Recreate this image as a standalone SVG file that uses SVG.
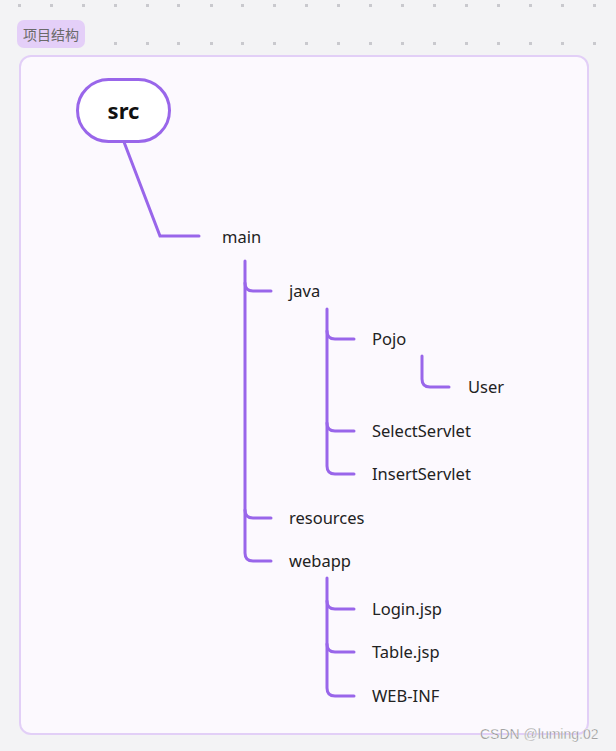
<svg xmlns="http://www.w3.org/2000/svg" width="616" height="751" viewBox="0 0 616 751">
<style>
.dot{fill:#c9c9ce}
.c{fill:none;stroke:#9966ea;stroke-width:3;stroke-linecap:round}
.t{font-family:"Noto Sans","Liberation Sans",sans-serif;font-size:16.5px;fill:#222}
</style>
<defs>
<rect id="d" width="3" height="3" class="dot"/>
</defs>
<rect width="616" height="751" fill="#f3f3f5"/>
<g id="grid">
<use href="#d" x="18" y="4"/><use href="#d" x="50" y="4"/><use href="#d" x="82" y="4"/><use href="#d" x="114" y="4"/><use href="#d" x="146" y="4"/><use href="#d" x="177" y="4"/><use href="#d" x="210" y="4"/><use href="#d" x="241" y="4"/><use href="#d" x="273" y="4"/><use href="#d" x="305" y="4"/><use href="#d" x="337" y="4"/><use href="#d" x="369" y="4"/><use href="#d" x="401" y="4"/><use href="#d" x="433" y="4"/><use href="#d" x="465" y="4"/><use href="#d" x="497" y="4"/><use href="#d" x="529" y="4"/><use href="#d" x="561" y="4"/><use href="#d" x="593" y="4"/>
<use href="#d" x="114" y="42"/><use href="#d" x="146" y="42"/><use href="#d" x="177" y="42"/><use href="#d" x="210" y="42"/><use href="#d" x="241" y="42"/><use href="#d" x="273" y="42"/><use href="#d" x="305" y="42"/><use href="#d" x="337" y="42"/><use href="#d" x="369" y="42"/><use href="#d" x="401" y="42"/><use href="#d" x="433" y="42"/><use href="#d" x="465" y="42"/><use href="#d" x="497" y="42"/><use href="#d" x="529" y="42"/><use href="#d" x="561" y="42"/><use href="#d" x="593" y="42"/>
</g>
<g id="label">
<rect x="17" y="20" width="68" height="28" rx="7" fill="#e4cff8"/>
<text x="51" y="40" text-anchor="middle" font-family="Noto Sans CJK SC, sans-serif" font-size="14" fill="#6a6a6a">项目结构</text>
</g>
<g id="frame">
<rect x="20" y="56" width="568" height="678" rx="11" fill="#fcf9fe" stroke="#e2cff7" stroke-width="2"/>
</g>
<g id="connectors">
<path class="c" d="M124,142 L160,236 H199"/>
<path class="c" d="M245,261 V553 Q245,561 253,561 H271"/>
<path class="c" d="M245,283 Q245,291 253,291 H271"/>
<path class="c" d="M245,510 Q245,518 253,518 H271"/>
<path class="c" d="M327,309 V466 Q327,474 335,474 H354"/>
<path class="c" d="M327,331 Q327,339 335,339 H354"/>
<path class="c" d="M327,423 Q327,431 335,431 H354"/>
<path class="c" d="M422,356 V379 Q422,387 430,387 H449"/>
<path class="c" d="M327,578 V688 Q327,696 335,696 H354"/>
<path class="c" d="M327,601 Q327,609 335,609 H354"/>
<path class="c" d="M327,644 Q327,652 335,652 H354"/>
</g>
<g id="src">
<rect x="77.5" y="79.5" width="92" height="62" rx="31" fill="#fff" stroke="#9966ea" stroke-width="3"/>
<text x="123.5" y="119" text-anchor="middle" font-family="Noto Sans, Liberation Sans, sans-serif" font-size="22" font-weight="bold" fill="#111">src</text>
</g>
<g id="main"><text class="t" x="222" y="243">main</text></g>
<g id="java"><text class="t" x="289" y="297">java</text></g>
<g id="pojo"><text class="t" x="372" y="345">Pojo</text></g>
<g id="user"><text class="t" x="468" y="393">User</text></g>
<g id="selectservlet"><text class="t" x="372" y="437">SelectServlet</text></g>
<g id="insertservlet"><text class="t" x="372" y="480">InsertServlet</text></g>
<g id="resources"><text class="t" x="289" y="524">resources</text></g>
<g id="webapp"><text class="t" x="289" y="567">webapp</text></g>
<g id="login"><text class="t" x="372" y="615">Login.jsp</text></g>
<g id="table"><text class="t" x="372" y="658">Table.jsp</text></g>
<g id="webinf"><text class="t" x="372" y="702">WEB-INF</text></g>
<text x="480" y="739" font-family="Liberation Sans, sans-serif" font-size="14" fill="#7a7a7a" stroke="#fff" stroke-width="0.4">CSDN @luming.02</text>
</svg>
